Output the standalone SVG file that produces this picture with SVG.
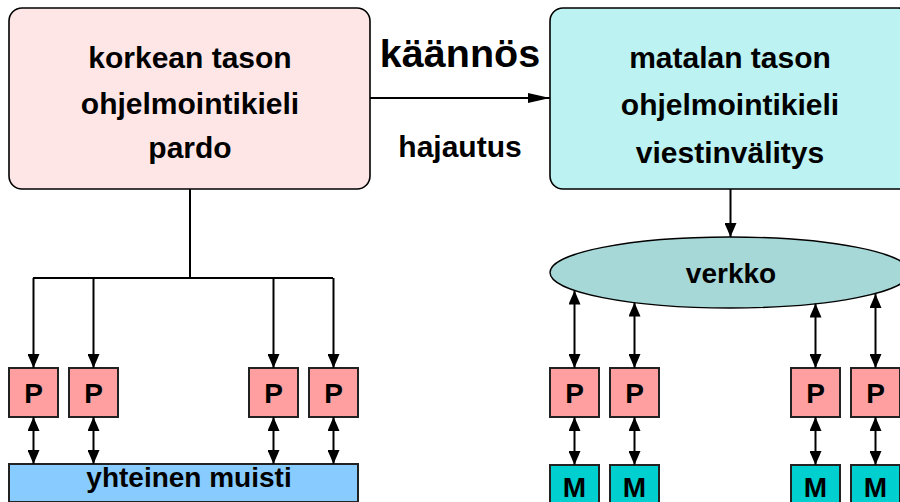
<svg xmlns="http://www.w3.org/2000/svg" width="900" height="502" viewBox="0 0 900 502">
  <style>
    text { font-family: "Liberation Sans", Arial, Helvetica, sans-serif; font-weight: bold; fill: #000; text-anchor: middle; }
    .big { font-size: 28px; }
    .box { font-size: 30px; }
    .title { font-size: 39.5px; }
    .lang { stroke: #000; stroke-width: 1.6; }
    .proc { fill: #FF9F9F; stroke: #222; stroke-width: 2; }
    .mem { fill: #00CFCF; stroke: #222; stroke-width: 2; }
    .wire { fill: none; stroke: #000; stroke-width: 2; }
  </style>
  <defs>
    <marker id="tip" markerUnits="userSpaceOnUse" viewBox="0 0 14 12" refX="14" refY="6" markerWidth="14" markerHeight="12" orient="auto-start-reverse">
      <path d="M0,0 L14,6 L0,12 Z" fill="#000"/>
    </marker>
    <marker id="tipLong" markerUnits="userSpaceOnUse" viewBox="0 0 22 10" refX="22" refY="5" markerWidth="22" markerHeight="10" orient="auto">
      <path d="M0,0 L22,5 L0,10 Z" fill="#000"/>
    </marker>
  </defs>

  <!-- high-level language -->
  <g id="korkea">
    <rect class="lang" x="9" y="8" width="361" height="181" rx="13" fill="#FFE6E6"/>
    <text class="box" x="190" y="68">korkean tason</text>
    <text class="box" x="190" y="114">ohjelmointikieli</text>
    <text class="box" x="190" y="158">pardo</text>
  </g>

  <!-- low-level language -->
  <g id="matala">
    <rect class="lang" x="550" y="8" width="361" height="181" rx="13" fill="#BDF2F2"/>
    <text class="box" x="730" y="68">matalan tason</text>
    <text class="box" x="730" y="115">ohjelmointikieli</text>
    <text class="box" x="730" y="163">viestinvälitys</text>
  </g>

  <!-- compilation labels -->
  <g id="kaannos">
    <text class="title" x="460" y="67">käännös</text>
    <text class="box" x="460" y="157">hajautus</text>
  </g>

  <!-- network -->
  <g id="verkko">
    <ellipse cx="730" cy="272.5" rx="180" ry="35.5" fill="#A7D8D8" stroke="#000" stroke-width="1.4"/>
    <text class="big" x="731" y="283">verkko</text>
  </g>

  <!-- shared-memory processors -->
  <g id="p-l1"><rect class="proc" x="9" y="368" width="49" height="49"/><text class="big" x="33.5" y="403">P</text></g>
  <g id="p-l2"><rect class="proc" x="69" y="368" width="49" height="49"/><text class="big" x="93.5" y="403">P</text></g>
  <g id="p-l3"><rect class="proc" x="249" y="368" width="49" height="49"/><text class="big" x="273.5" y="403">P</text></g>
  <g id="p-l4"><rect class="proc" x="309" y="368" width="49" height="49"/><text class="big" x="333.5" y="403">P</text></g>

  <g id="muisti">
    <rect x="9" y="464" width="349" height="38" fill="#88CCFF" stroke="#222" stroke-width="2"/>
    <text class="big" x="189" y="487">yhteinen muisti</text>
  </g>

  <!-- message-passing processors and local memories -->
  <g id="p-r1"><rect class="proc" x="550" y="368" width="49" height="49"/><text class="big" x="574.5" y="403">P</text></g>
  <g id="p-r2"><rect class="proc" x="610" y="368" width="49" height="49"/><text class="big" x="634.5" y="403">P</text></g>
  <g id="p-r3"><rect class="proc" x="791" y="368" width="49" height="49"/><text class="big" x="815.5" y="403">P</text></g>
  <g id="p-r4"><rect class="proc" x="851" y="368" width="49" height="49"/><text class="big" x="875.5" y="403">P</text></g>

  <g id="m-r1"><rect class="mem" x="550" y="465" width="49" height="40"/><text class="big" x="574.5" y="497">M</text></g>
  <g id="m-r2"><rect class="mem" x="610" y="465" width="49" height="40"/><text class="big" x="634.5" y="497">M</text></g>
  <g id="m-r3"><rect class="mem" x="791" y="465" width="49" height="40"/><text class="big" x="815.5" y="497">M</text></g>
  <g id="m-r4"><rect class="mem" x="851" y="465" width="49" height="40"/><text class="big" x="875.5" y="497">M</text></g>

  <!-- connectors -->
  <g id="connectors">
    <path class="wire" d="M370,98 H550" marker-end="url(#tipLong)"/>

    <path class="wire" d="M190,189 V278 M33,278 H333"/>
    <path class="wire" d="M33.5,278 V368" marker-end="url(#tip)"/>
    <path class="wire" d="M93.5,278 V368" marker-end="url(#tip)"/>
    <path class="wire" d="M273.5,278 V368" marker-end="url(#tip)"/>
    <path class="wire" d="M333.5,278 V368" marker-end="url(#tip)"/>

    <path class="wire" d="M33.5,417 V464" marker-start="url(#tip)" marker-end="url(#tip)"/>
    <path class="wire" d="M93.5,417 V464" marker-start="url(#tip)" marker-end="url(#tip)"/>
    <path class="wire" d="M273.5,417 V464" marker-start="url(#tip)" marker-end="url(#tip)"/>
    <path class="wire" d="M333.5,417 V464" marker-start="url(#tip)" marker-end="url(#tip)"/>

    <path class="wire" d="M730.5,189 V237" marker-end="url(#tip)"/>

    <path class="wire" d="M574.5,290.5 V368" marker-start="url(#tip)" marker-end="url(#tip)"/>
    <path class="wire" d="M634.5,302.5 V368" marker-start="url(#tip)" marker-end="url(#tip)"/>
    <path class="wire" d="M815.5,303.5 V368" marker-start="url(#tip)" marker-end="url(#tip)"/>
    <path class="wire" d="M875.5,294 V368" marker-start="url(#tip)" marker-end="url(#tip)"/>

    <path class="wire" d="M574.5,417 V465" marker-start="url(#tip)" marker-end="url(#tip)"/>
    <path class="wire" d="M634.5,417 V465" marker-start="url(#tip)" marker-end="url(#tip)"/>
    <path class="wire" d="M815.5,417 V465" marker-start="url(#tip)" marker-end="url(#tip)"/>
    <path class="wire" d="M875.5,417 V465" marker-start="url(#tip)" marker-end="url(#tip)"/>
  </g>
</svg>
